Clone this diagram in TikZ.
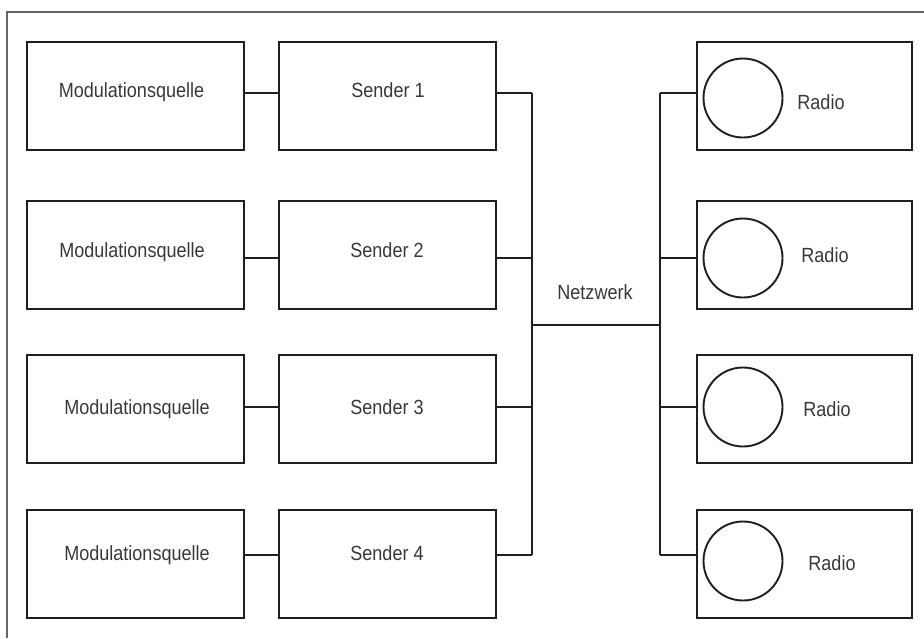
\documentclass[tikz,border=0pt]{standalone}
\usepackage{fontspec}
\setmainfont[FakeStretch=0.88]{Liberation Sans}
\begin{document}
\begin{tikzpicture}[x=1pt,y=-1pt,
  box/.style={draw=black!88, line width=2.3pt, rectangle, inner sep=0pt,
              minimum width=217pt, minimum height=108pt},
  rbox/.style={box, minimum width=215pt},
  wire/.style={draw=black!88, line width=1.9pt},
  speaker/.style={draw=black!88, line width=1.9pt, circle, inner sep=0pt, minimum size=79pt},
  lbl/.style={anchor=base, inner sep=0pt, text=black!78,
              font=\fontsize{20.5}{24}\selectfont},
  frame/.style={draw=black!60, line width=1.4pt}]
\useasboundingbox (0,0) rectangle (924,638);

% outer frame (top and left edges)
\coordinate (ftl) at (7,12);
\coordinate (ftr) at (924,12);
\coordinate (fbl) at (7,638);
\draw[frame] (ftr) -- (ftl) -- (fbl);

% sources, transmitters and receivers
\foreach \i/\cy in {1/96,2/255,3/409,4/564}{
  \node[box] (m\i) at (135.5,\cy) {};
  \node[box] (s\i) at (387.5,\cy) {};
  \node[rbox] (r\i) at (804.5,\cy) {};
}

% labels
\node[lbl] (tm1) at (131.5,97) {Modulationsquelle};
\node[lbl] (tm2) at (132,257) {Modulationsquelle};
\node[lbl] (tm3) at (137,414) {Modulationsquelle};
\node[lbl] (tm4) at (137,560) {Modulationsquelle};
\node[lbl] (ts1) at (388,97) {Sender 1};
\node[lbl] (ts2) at (387,257) {Sender 2};
\node[lbl] (ts3) at (387,414) {Sender 3};
\node[lbl] (ts4) at (387,560) {Sender 4};
\node[lbl] (tr1) at (821,109) {Radio};
\node[lbl] (tr2) at (825,262) {Radio};
\node[lbl] (tr3) at (827,416) {Radio};
\node[lbl] (tr4) at (832,570) {Radio};
\node[lbl] (tnet) at (595,299) {Netzwerk};

% speakers in the receivers
\node[speaker] (c1) at (743,98) {};
\node[speaker] (c2) at (743,258) {};
\node[speaker] (c3) at (743,407) {};
\node[speaker] (c4) at (743,561) {};

% bus junctions
\foreach \i/\y in {1/93,2/258,3/407,4/555}{
  \coordinate (lb\i) at (532,\y);
  \coordinate (rb\i) at (660,\y);
}
\coordinate (nl) at (532,325);
\coordinate (nr) at (660,325);

% connectors
\foreach \i in {1,...,4}{
  \draw[wire] (m\i.east |- lb\i) -- (s\i.west |- lb\i);
  \draw[wire] (s\i.east |- lb\i) -- (lb\i);
  \draw[wire] (rb\i) -- (r\i.west |- rb\i);
}
\draw[wire] (lb1) -- (lb4);
\draw[wire] (rb1) -- (rb4);
\draw[wire] (nl) -- (nr);
\end{tikzpicture}
\end{document}
